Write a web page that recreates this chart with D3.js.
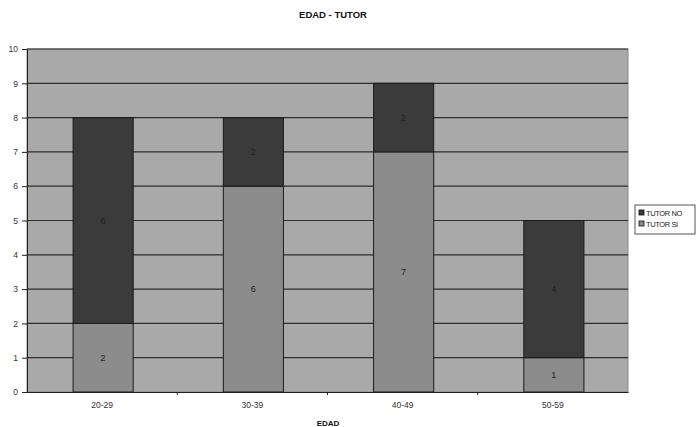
<!DOCTYPE html>
<html>
<head>
<meta charset="utf-8">
<script src="https://cdn.jsdelivr.net/npm/d3@7"></script>
<style>
  body { margin: 0; background: #fff; }
  svg { display: block; font-family: "Liberation Sans", Arial, sans-serif; }
</style>
</head>
<body>
<svg id="chart" width="696" height="427"></svg>
<script>
// Age groups and tutor counts (stacked)
const categories = ["20-29", "30-39", "40-49", "50-59"];
const tutorSi = [2, 6, 7, 1];
const tutorNo = [6, 2, 2, 4];
const seriesNames = ["TUTOR SI", "TUTOR NO"];
const yTicks = [0, 1, 2, 3, 4, 5, 6, 7, 8, 9, 10];

const colors = { "TUTOR SI": "#8c8c8c", "TUTOR NO": "#3b3b3b" };

const svg = d3.select("#chart");
const margin = { left: 27, right: 68, top: 49, bottom: 35 };
const W = 696, H = 427;
const x0 = margin.left, x1 = W - margin.right, y0 = H - margin.bottom, y1 = margin.top;

const x = d3.scaleBand().domain(categories).range([x0 + 1, x1 + 1]).paddingInner(0.6).paddingOuter(0.3);
const xBand = d3.scaleBand().domain(categories).range([x0, x1]);
const y = d3.scaleLinear().domain([0, 10]).range([y0, y1]);

// Plot area
svg.append("rect").attr("x", x0).attr("y", y1).attr("width", x1 - x0).attr("height", y0 - y1)
  .attr("fill", "#a9a9a9").attr("stroke", "#8a8a8a").attr("stroke-width", 1);

// Gridlines
svg.append("g").selectAll("line").data(yTicks.filter(d => d > 0)).join("line")
  .attr("x1", x0).attr("x2", x1).attr("y1", d => y(d)).attr("y2", d => y(d))
  .attr("stroke", "#2e2e2e").attr("stroke-width", 1.2);

// Stacked bars
const rows = categories.map((c, i) => ({ cat: c, "TUTOR SI": tutorSi[i], "TUTOR NO": tutorNo[i] }));
const stacked = d3.stack().keys(seriesNames)(rows);

const layers = svg.append("g").selectAll("g").data(stacked).join("g")
  .attr("fill", d => colors[d.key]);
layers.selectAll("rect").data(d => d).join("rect")
  .attr("x", d => x(d.data.cat))
  .attr("width", x.bandwidth())
  .attr("y", d => y(d[1]))
  .attr("height", d => y(d[0]) - y(d[1]))
  .attr("stroke", "#1a1a1a").attr("stroke-width", 1);

// Value labels
layers.selectAll("text").data(d => d).join("text")
  .attr("x", d => x(d.data.cat) + x.bandwidth() / 2)
  .attr("y", d => (y(d[0]) + y(d[1])) / 2 + 3)
  .attr("text-anchor", "middle").attr("font-size", 9).attr("fill", "#1e1e1e")
  .text(d => d[1] - d[0]);

// Y axis
const yAxis = svg.append("g").attr("transform", `translate(${x0},0)`)
  .call(d3.axisLeft(y).tickValues(yTicks).tickSize(5).tickPadding(4));
yAxis.select(".domain").attr("stroke", "#222");
yAxis.selectAll(".tick line").attr("stroke", "#222");
yAxis.selectAll("text").attr("font-size", 8.5).attr("fill", "#333")
  .attr("font-family", "Liberation Sans, Arial, sans-serif");

// X axis
const xAxis = svg.append("g").attr("transform", `translate(0,${y0})`)
  .call(d3.axisBottom(xBand).tickSize(0).tickPadding(10));
xAxis.select(".domain").attr("stroke", "#222");
xAxis.selectAll("text").attr("font-size", 8.5).attr("fill", "#333")
  .attr("font-family", "Liberation Sans, Arial, sans-serif");
// Tick marks at category boundaries
svg.append("g").selectAll("line").data(categories.slice(1)).join("line")
  .attr("x1", d => xBand(d)).attr("x2", d => xBand(d))
  .attr("y1", y0).attr("y2", y0 + 3).attr("stroke", "#222");

// Titles
svg.append("text").attr("x", 333).attr("y", 18).attr("text-anchor", "middle")
  .attr("font-size", 9.5).attr("font-weight", "bold").attr("fill", "#111").text("EDAD - TUTOR");
svg.append("text").attr("x", 328).attr("y", 426).attr("text-anchor", "middle")
  .attr("font-size", 8).attr("font-weight", "bold").attr("fill", "#111").text("EDAD");

// Legend
const lg = svg.append("g").attr("transform", "translate(635,205)");
lg.append("rect").attr("width", 60).attr("height", 29).attr("fill", "#fff")
  .attr("stroke", "#555").attr("stroke-width", 1);
["TUTOR NO", "TUTOR SI"].forEach((name, i) => {
  lg.append("rect").attr("x", 4).attr("y", 5 + i * 11).attr("width", 5).attr("height", 5)
    .attr("fill", colors[name]).attr("stroke", "#111").attr("stroke-width", 0.8);
  lg.append("text").attr("x", 11).attr("y", 10.5 + i * 11).attr("font-size", 7.5)
    .attr("fill", "#222").attr("letter-spacing", "-0.4").text(name);
});
</script>
</body>
</html>
